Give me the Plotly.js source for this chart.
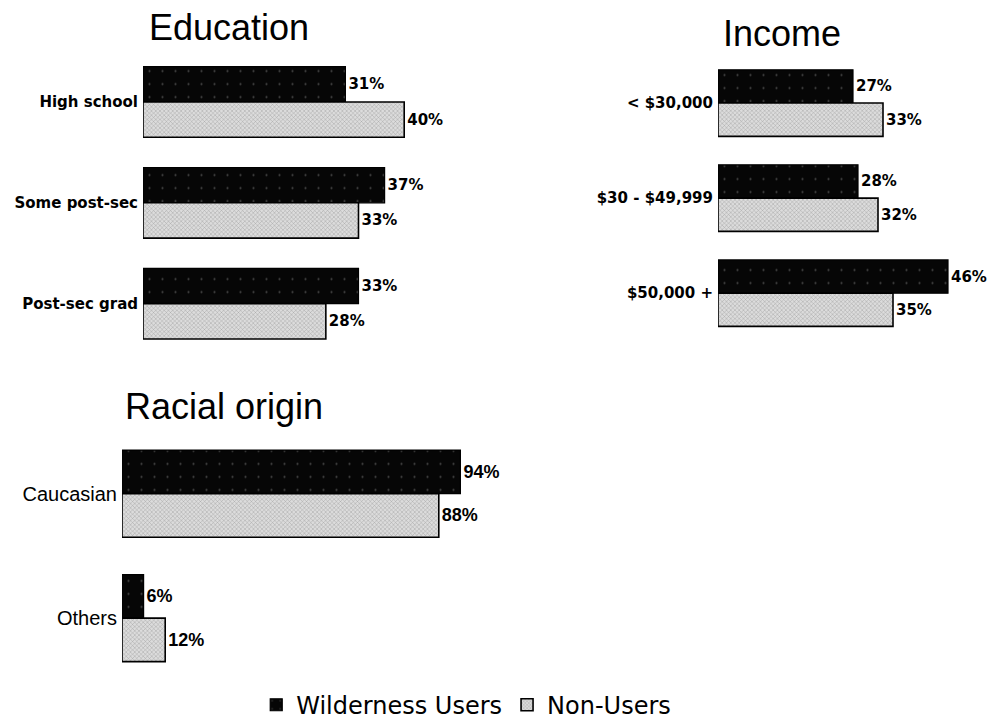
<!DOCTYPE html>
<html><head><meta charset="utf-8">
<script src="https://cdn.plot.ly/plotly-3.0.1.min.js"></script>
<style>html,body{margin:0;padding:0;background:#fff}#chart{width:992px;height:728px}</style>
</head><body><div id="chart"></div>
<script>
const seriesNames = ['Wilderness Users', 'Non-Users'];
const eduCats = ['High school', 'Some post-sec', 'Post-sec grad'];
const eduUsers = [31, 37, 33];
const eduNon = [40, 33, 28];
const incCats = ['&lt; $30,000', '$30 - $49,999', '$50,000 +'];
const incUsers = [27, 28, 46];
const incNon = [33, 32, 35];
const raceCats = ['Caucasian', 'Others'];
const raceUsers = [94, 6];
const raceNon = [88, 12];
const titles = ['Education', 'Income', 'Racial origin'];

const darkMarker = {color: '#080808', line: {color: '#000', width: 1.2},
  pattern: {shape: '.', fgcolor: '#4a4a4a', bgcolor: '#060606', size: 13, solidity: 0.02}};
const lightMarker = {color: '#cfcfcf', line: {color: '#000', width: 1.6},
  pattern: {shape: 'x', fgcolor: '#9a9a9a', bgcolor: '#dcdcdc', size: 3, solidity: 0.25}};
const valFont = {family: 'DejaVu Sans', size: 15, color: '#000', weight: 'bold'};
const raceValFont = {family: 'Liberation Sans, Arial', size: 18, color: '#000', weight: 'bold'};

function pair(cats, users, non, ax, showLeg, font) {
  const common = {type: 'bar', orientation: 'h', y: cats, xaxis: 'x' + ax, yaxis: 'y' + ax,
    textposition: 'outside', texttemplate: '%{x}%', cliponaxis: false, constraintext: 'none',
    textfont: font, hoverinfo: 'skip'};
  return [
    Object.assign({}, common, {x: users, name: seriesNames[0], marker: darkMarker, legendgroup: 'u', showlegend: showLeg}),
    Object.assign({}, common, {x: non, name: seriesNames[1], marker: lightMarker, legendgroup: 'n', showlegend: showLeg})
  ];
}

const data = [].concat(
  pair(eduCats, eduUsers, eduNon, '', true, valFont),
  pair(incCats, incUsers, incNon, '2', false, valFont),
  pair(raceCats, raceUsers, raceNon, '3', false, raceValFont)
);

const xbase = {showgrid: false, zeroline: false, showline: false, showticklabels: false, ticks: ''};
const ybase = {showgrid: false, zeroline: false, showline: false, ticks: '', autorange: 'reversed',
  ticklabelstandoff: 4, tickfont: {family: 'DejaVu Sans', size: 15, color: '#000', weight: 'bold'}};
const W = 992, H = 728;
const px = v => v / W, py = v => 1 - v / H;

const layout = {
  width: W, height: H, margin: {l: 0, r: 0, t: 0, b: 0},
  paper_bgcolor: '#fff', plot_bgcolor: 'rgba(0,0,0,0)',
  barmode: 'group', bargap: 0.3, bargroupgap: 0, hovermode: false,
  showlegend: true,
  legend: {orientation: 'h', x: 0.47, xanchor: 'center', y: py(711), yanchor: 'middle',
    font: {family: 'DejaVu Sans', size: 24, color: '#000'}, itemwidth: 30, traceorder: 'normal',
    bgcolor: 'rgba(0,0,0,0)'},
  xaxis: Object.assign({}, xbase, {domain: [px(143), px(143 + 6.53 * 50)], range: [0, 50]}),
  yaxis: Object.assign({}, ybase, {domain: [py(357), py(52)], anchor: 'x'}),
  xaxis2: Object.assign({}, xbase, {domain: [px(718), px(718 + 5.0 * 50)], range: [0, 50], anchor: 'y2'}),
  yaxis2: Object.assign({}, ybase, {domain: [py(343.5), py(56)], anchor: 'x2'}),
  xaxis3: Object.assign({}, xbase, {domain: [px(122), px(122 + 3.6 * 100)], range: [0, 100], anchor: 'y3'}),
  yaxis3: Object.assign({}, ybase, {domain: [py(686), py(435)], anchor: 'x3',
    tickfont: {family: 'Liberation Sans, Arial', size: 20, color: '#000'}}),
  annotations: [
    {text: titles[0], x: px(229), y: py(27.5), xref: 'paper', yref: 'paper', xanchor: 'center', yanchor: 'middle', showarrow: false,
     font: {family: 'Liberation Sans, Arial', size: 36, color: '#000'}},
    {text: titles[1], x: px(782), y: py(34), xref: 'paper', yref: 'paper', xanchor: 'center', yanchor: 'middle', showarrow: false,
     font: {family: 'Liberation Sans, Arial', size: 36, color: '#000'}},
    {text: titles[2], x: px(224), y: py(410), xref: 'paper', yref: 'paper', xanchor: 'center', yanchor: 'middle', showarrow: false,
     font: {family: 'Liberation Sans, Arial', size: 36, color: '#000'}}
  ]
};
Plotly.newPlot('chart', data, layout, {displayModeBar: false, staticPlot: true});
</script></body></html>
